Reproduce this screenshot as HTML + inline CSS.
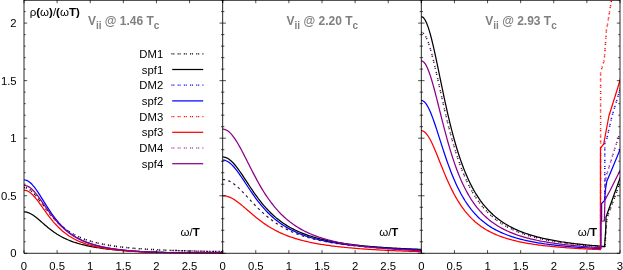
<!DOCTYPE html><html><head><meta charset="utf-8"><style>html,body{margin:0;padding:0;background:#fff}svg{display:block}text{font-family:"Liberation Sans",sans-serif}</style></head><body>
<svg width="623" height="270" viewBox="0 0 623 270">
<rect width="623" height="270" fill="#fff"/>
<clipPath id="c"><rect x="24.00" y="0" width="596.00" height="253.30"/></clipPath>
<g clip-path="url(#c)">
<path d="M24.00 187.58 L25.32 187.69 L26.65 188.03 L27.97 188.60 L29.30 189.37 L30.62 190.33 L31.95 191.47 L33.27 192.77 L34.60 194.20 L35.92 195.74 L37.24 197.37 L38.57 199.07 L39.89 200.81 L41.22 202.58 L42.54 204.37 L43.87 206.15 L45.19 207.92 L46.52 209.66 L47.84 211.36 L49.16 213.03 L50.49 214.65 L51.81 216.21 L53.14 217.72 L54.46 219.18 L55.79 220.58 L57.11 221.92 L58.44 223.20 L59.76 224.43 L61.08 225.60 L62.41 226.72 L63.73 227.78 L65.06 228.80 L66.38 229.77 L67.71 230.69 L69.03 231.56 L70.36 232.40 L71.68 233.19 L73.00 233.95 L74.33 234.67 L75.65 235.36 L76.98 236.01 L78.30 236.63 L79.63 237.22 L80.95 237.79 L82.28 238.33 L83.60 238.84 L84.92 239.33 L86.25 239.80 L87.57 240.24 L88.90 240.67 L90.22 241.08 L91.55 241.47 L92.87 241.84 L94.20 242.19 L95.52 242.53 L96.84 242.86 L98.17 243.17 L99.49 243.47 L100.82 243.76 L102.14 244.04 L103.47 244.30 L104.79 244.55 L106.12 244.80 L107.44 245.03 L108.76 245.26 L110.09 245.47 L111.41 245.68 L112.74 245.88 L114.06 246.07 L115.39 246.26 L116.71 246.44 L118.04 246.61 L119.36 246.78 L120.68 246.94 L122.01 247.09 L123.33 247.24 L124.66 247.39 L125.98 247.52 L127.31 247.66 L128.63 247.79 L129.96 247.91 L131.28 248.04 L132.60 248.15 L133.93 248.27 L135.25 248.38 L136.58 248.48 L137.90 248.59 L139.23 248.69 L140.55 248.79 L141.88 248.88 L143.20 248.97 L144.52 249.06 L145.85 249.15 L147.17 249.23 L148.50 249.31 L149.82 249.39 L151.15 249.46 L152.47 249.54 L153.80 249.61 L155.12 249.68 L156.44 249.75 L157.77 249.82 L159.09 249.88 L160.42 249.94 L161.74 250.00 L163.07 250.06 L164.39 250.12 L165.72 250.18 L167.04 250.23 L168.36 250.29 L169.69 250.34 L171.01 250.39 L172.34 250.44 L173.66 250.49 L174.99 250.53 L176.31 250.58 L177.64 250.62 L178.96 250.67 L180.28 250.71 L181.61 250.75 L182.93 250.79 L184.26 250.83 L185.58 250.87 L186.91 250.91 L188.23 250.95 L189.56 250.98 L190.88 251.02 L192.20 251.05 L193.53 251.09 L194.85 251.12 L196.18 251.15 L197.50 251.18 L198.83 251.21 L200.15 251.24 L201.48 251.27 L202.80 251.30 L204.12 251.33 L205.45 251.36 L206.77 251.39 L208.10 251.41 L209.42 251.44 L210.75 251.46 L212.07 251.49 L213.40 251.51 L214.72 251.54 L216.04 251.56 L217.37 251.58 L218.69 251.61 L220.02 251.63 L221.34 251.65 L222.67 251.67" fill="none" stroke="#000" stroke-width="1.50" stroke-dasharray="1.1 0.8 1.1 3.2" stroke-dashoffset="0"/>
<path d="M24.00 211.86 L25.32 211.94 L26.65 212.17 L27.97 212.54 L29.30 213.06 L30.62 213.70 L31.95 214.45 L33.27 215.31 L34.60 216.25 L35.92 217.27 L37.24 218.34 L38.57 219.45 L39.89 220.59 L41.22 221.74 L42.54 222.90 L43.87 224.06 L45.19 225.20 L46.52 226.32 L47.84 227.42 L49.16 228.49 L50.49 229.52 L51.81 230.52 L53.14 231.49 L54.46 232.42 L55.79 233.31 L57.11 234.16 L58.44 234.97 L59.76 235.75 L61.08 236.49 L62.41 237.20 L63.73 237.88 L65.06 238.52 L66.38 239.13 L67.71 239.72 L69.03 240.27 L70.36 240.80 L71.68 241.31 L73.00 241.79 L74.33 242.24 L75.65 242.68 L76.98 243.10 L78.30 243.49 L79.63 243.87 L80.95 244.24 L82.28 244.58 L83.60 244.91 L84.92 245.23 L86.25 245.53 L87.57 245.82 L88.90 246.10 L90.22 246.37 L91.55 246.62 L92.87 246.87 L94.20 247.10 L95.52 247.33 L96.84 247.54 L98.17 247.75 L99.49 247.95 L100.82 248.15 L102.14 248.33 L103.47 248.51 L104.79 248.68 L106.12 248.85 L107.44 249.01 L108.76 249.16 L110.09 249.31 L111.41 249.46 L112.74 249.59 L114.06 249.73 L115.39 249.86 L116.71 249.98 L118.04 250.10 L119.36 250.22 L120.68 250.33 L122.01 250.44 L123.33 250.54 L124.66 250.64 L125.98 250.74 L127.31 250.83 L128.63 250.92 L129.96 251.01 L131.28 251.10 L132.60 251.18 L133.93 251.26 L135.25 251.33 L136.58 251.40 L137.90 251.48 L139.23 251.54 L140.55 251.61 L141.88 251.67 L143.20 251.73 L144.52 251.79 L145.85 251.85 L147.17 251.91 L148.50 251.96 L149.82 252.01 L151.15 252.06 L152.47 252.11 L153.80 252.15 L155.12 252.20 L156.44 252.24 L157.77 252.28 L159.09 252.32 L160.42 252.35 L161.74 252.39 L163.07 252.43 L164.39 252.46 L165.72 252.49 L167.04 252.52 L168.36 252.55 L169.69 252.58 L171.01 252.61 L172.34 252.63 L173.66 252.66 L174.99 252.68 L176.31 252.71 L177.64 252.73 L178.96 252.75 L180.28 252.77 L181.61 252.79 L182.93 252.81 L184.26 252.83 L185.58 252.85 L186.91 252.87 L188.23 252.88 L189.56 252.90 L190.88 252.91 L192.20 252.93 L193.53 252.94 L194.85 252.95 L196.18 252.97 L197.50 252.98 L198.83 252.99 L200.15 253.00 L201.48 253.01 L202.80 253.02 L204.12 253.03 L205.45 253.04 L206.77 253.05 L208.10 253.06 L209.42 253.07 L210.75 253.08 L212.07 253.09 L213.40 253.09 L214.72 253.10 L216.04 253.11 L217.37 253.12 L218.69 253.12 L220.02 253.13 L221.34 253.13 L222.67 253.14" fill="none" stroke="#000" stroke-width="1.25" stroke-linejoin="round"/>
<path d="M24.00 179.87 L25.32 180.00 L26.65 180.38 L27.97 181.02 L29.30 181.90 L30.62 183.01 L31.95 184.31 L33.27 185.81 L34.60 187.46 L35.92 189.25 L37.24 191.15 L38.57 193.15 L39.89 195.20 L41.22 197.31 L42.54 199.43 L43.87 201.57 L45.19 203.69 L46.52 205.79 L47.84 207.86 L49.16 209.88 L50.49 211.85 L51.81 213.75 L53.14 215.60 L54.46 217.38 L55.79 219.09 L57.11 220.73 L58.44 222.30 L59.76 223.79 L61.08 225.22 L62.41 226.59 L63.73 227.88 L65.06 229.11 L66.38 230.28 L67.71 231.40 L69.03 232.45 L70.36 233.45 L71.68 234.40 L73.00 235.30 L74.33 236.16 L75.65 236.97 L76.98 237.74 L78.30 238.47 L79.63 239.16 L80.95 239.81 L82.28 240.44 L83.60 241.03 L84.92 241.59 L86.25 242.12 L87.57 242.63 L88.90 243.11 L90.22 243.57 L91.55 244.01 L92.87 244.42 L94.20 244.82 L95.52 245.19 L96.84 245.55 L98.17 245.89 L99.49 246.22 L100.82 246.53 L102.14 246.83 L103.47 247.11 L104.79 247.38 L106.12 247.64 L107.44 247.88 L108.76 248.12 L110.09 248.34 L111.41 248.56 L112.74 248.77 L114.06 248.96 L115.39 249.15 L116.71 249.33 L118.04 249.50 L119.36 249.67 L120.68 249.82 L122.01 249.97 L123.33 250.12 L124.66 250.26 L125.98 250.39 L127.31 250.52 L128.63 250.64 L129.96 250.75 L131.28 250.86 L132.60 250.97 L133.93 251.07 L135.25 251.17 L136.58 251.26 L137.90 251.35 L139.23 251.44 L140.55 251.52 L141.88 251.60 L143.20 251.67 L144.52 251.74 L145.85 251.81 L147.17 251.88 L148.50 251.94 L149.82 252.00 L151.15 252.06 L152.47 252.11 L153.80 252.16 L155.12 252.21 L156.44 252.26 L157.77 252.31 L159.09 252.35 L160.42 252.39 L161.74 252.43 L163.07 252.47 L164.39 252.51 L165.72 252.54 L167.04 252.57 L168.36 252.61 L169.69 252.64 L171.01 252.67 L172.34 252.69 L173.66 252.72 L174.99 252.74 L176.31 252.77 L177.64 252.79 L178.96 252.81 L180.28 252.83 L181.61 252.85 L182.93 252.87 L184.26 252.89 L185.58 252.91 L186.91 252.93 L188.23 252.94 L189.56 252.96 L190.88 252.97 L192.20 252.99 L193.53 253.00 L194.85 253.01 L196.18 253.02 L197.50 253.03 L198.83 253.05 L200.15 253.06 L201.48 253.07 L202.80 253.08 L204.12 253.09 L205.45 253.09 L206.77 253.10 L208.10 253.11 L209.42 253.12 L210.75 253.13 L212.07 253.13 L213.40 253.14 L214.72 253.15 L216.04 253.15 L217.37 253.16 L218.69 253.16 L220.02 253.17 L221.34 253.17 L222.67 253.18" fill="none" stroke="#0000ff" stroke-width="1.25" stroke-linejoin="round"/>
<path d="M24.00 190.23 L25.32 190.34 L26.65 190.69 L27.97 191.26 L29.30 192.04 L30.62 193.02 L31.95 194.18 L33.27 195.50 L34.60 196.97 L35.92 198.55 L37.24 200.23 L38.57 201.99 L39.89 203.80 L41.22 205.64 L42.54 207.51 L43.87 209.37 L45.19 211.22 L46.52 213.05 L47.84 214.85 L49.16 216.60 L50.49 218.30 L51.81 219.95 L53.14 221.54 L54.46 223.07 L55.79 224.54 L57.11 225.94 L58.44 227.29 L59.76 228.57 L61.08 229.79 L62.41 230.95 L63.73 232.05 L65.06 233.10 L66.38 234.09 L67.71 235.03 L69.03 235.92 L70.36 236.77 L71.68 237.57 L73.00 238.33 L74.33 239.05 L75.65 239.73 L76.98 240.38 L78.30 240.99 L79.63 241.57 L80.95 242.12 L82.28 242.64 L83.60 243.13 L84.92 243.60 L86.25 244.05 L87.57 244.47 L88.90 244.87 L90.22 245.26 L91.55 245.62 L92.87 245.96 L94.20 246.29 L95.52 246.61 L96.84 246.90 L98.17 247.19 L99.49 247.46 L100.82 247.72 L102.14 247.96 L103.47 248.20 L104.79 248.42 L106.12 248.63 L107.44 248.84 L108.76 249.03 L110.09 249.22 L111.41 249.40 L112.74 249.57 L114.06 249.73 L115.39 249.88 L116.71 250.03 L118.04 250.17 L119.36 250.31 L120.68 250.44 L122.01 250.57 L123.33 250.68 L124.66 250.80 L125.98 250.91 L127.31 251.01 L128.63 251.11 L129.96 251.21 L131.28 251.30 L132.60 251.39 L133.93 251.47 L135.25 251.55 L136.58 251.63 L137.90 251.70 L139.23 251.77 L140.55 251.84 L141.88 251.90 L143.20 251.96 L144.52 252.02 L145.85 252.08 L147.17 252.13 L148.50 252.18 L149.82 252.23 L151.15 252.28 L152.47 252.32 L153.80 252.37 L155.12 252.41 L156.44 252.45 L157.77 252.49 L159.09 252.52 L160.42 252.56 L161.74 252.59 L163.07 252.62 L164.39 252.65 L165.72 252.68 L167.04 252.71 L168.36 252.73 L169.69 252.76 L171.01 252.78 L172.34 252.80 L173.66 252.82 L174.99 252.84 L176.31 252.86 L177.64 252.88 L178.96 252.90 L180.28 252.92 L181.61 252.93 L182.93 252.95 L184.26 252.97 L185.58 252.98 L186.91 252.99 L188.23 253.01 L189.56 253.02 L190.88 253.03 L192.20 253.04 L193.53 253.05 L194.85 253.06 L196.18 253.07 L197.50 253.08 L198.83 253.09 L200.15 253.10 L201.48 253.11 L202.80 253.12 L204.12 253.12 L205.45 253.13 L206.77 253.14 L208.10 253.14 L209.42 253.15 L210.75 253.16 L212.07 253.16 L213.40 253.17 L214.72 253.17 L216.04 253.18 L217.37 253.18 L218.69 253.19 L220.02 253.19 L221.34 253.20 L222.67 253.20" fill="none" stroke="#ff0000" stroke-width="1.25" stroke-linejoin="round"/>
<path d="M24.00 185.39 L25.32 185.50 L26.65 185.84 L27.97 186.39 L29.30 187.15 L30.62 188.10 L31.95 189.23 L33.27 190.53 L34.60 191.97 L35.92 193.53 L37.24 195.20 L38.57 196.95 L39.89 198.77 L41.22 200.63 L42.54 202.52 L43.87 204.42 L45.19 206.33 L46.52 208.22 L47.84 210.08 L49.16 211.91 L50.49 213.70 L51.81 215.44 L53.14 217.14 L54.46 218.77 L55.79 220.35 L57.11 221.87 L58.44 223.33 L59.76 224.72 L61.08 226.06 L62.41 227.34 L63.73 228.56 L65.06 229.72 L66.38 230.83 L67.71 231.88 L69.03 232.89 L70.36 233.84 L71.68 234.75 L73.00 235.61 L74.33 236.43 L75.65 237.21 L76.98 237.95 L78.30 238.66 L79.63 239.32 L80.95 239.96 L82.28 240.56 L83.60 241.14 L84.92 241.69 L86.25 242.21 L87.57 242.70 L88.90 243.17 L90.22 243.62 L91.55 244.05 L92.87 244.46 L94.20 244.85 L95.52 245.22 L96.84 245.57 L98.17 245.91 L99.49 246.23 L100.82 246.53 L102.14 246.83 L103.47 247.11 L104.79 247.37 L106.12 247.63 L107.44 247.87 L108.76 248.11 L110.09 248.33 L111.41 248.54 L112.74 248.75 L114.06 248.95 L115.39 249.13 L116.71 249.31 L118.04 249.48 L119.36 249.65 L120.68 249.80 L122.01 249.96 L123.33 250.10 L124.66 250.24 L125.98 250.37 L127.31 250.50 L128.63 250.62 L129.96 250.73 L131.28 250.85 L132.60 250.95 L133.93 251.05 L135.25 251.15 L136.58 251.25 L137.90 251.34 L139.23 251.42 L140.55 251.50 L141.88 251.58 L143.20 251.66 L144.52 251.73 L145.85 251.80 L147.17 251.86 L148.50 251.93 L149.82 251.99 L151.15 252.04 L152.47 252.10 L153.80 252.15 L155.12 252.20 L156.44 252.25 L157.77 252.30 L159.09 252.34 L160.42 252.38 L161.74 252.42 L163.07 252.46 L164.39 252.50 L165.72 252.53 L167.04 252.57 L168.36 252.60 L169.69 252.63 L171.01 252.66 L172.34 252.69 L173.66 252.71 L174.99 252.74 L176.31 252.76 L177.64 252.79 L178.96 252.81 L180.28 252.83 L181.61 252.85 L182.93 252.87 L184.26 252.89 L185.58 252.90 L186.91 252.92 L188.23 252.94 L189.56 252.95 L190.88 252.97 L192.20 252.98 L193.53 252.99 L194.85 253.01 L196.18 253.02 L197.50 253.03 L198.83 253.04 L200.15 253.05 L201.48 253.06 L202.80 253.07 L204.12 253.08 L205.45 253.09 L206.77 253.10 L208.10 253.11 L209.42 253.12 L210.75 253.12 L212.07 253.13 L213.40 253.14 L214.72 253.14 L216.04 253.15 L217.37 253.16 L218.69 253.16 L220.02 253.17 L221.34 253.17 L222.67 253.18" fill="none" stroke="#8b008b" stroke-width="1.25" stroke-linejoin="round"/>
<path d="M173.00 250.46 L174.24 250.51 L175.48 250.55 L176.72 250.59 L177.97 250.63 L179.21 250.68 L180.45 250.72 L181.69 250.75 L182.93 250.79 L184.17 250.83 L185.42 250.87 L186.66 250.90 L187.90 250.94 L189.14 250.97 L190.38 251.00 L191.62 251.04 L192.87 251.07 L194.11 251.10 L195.35 251.13 L196.59 251.16 L197.83 251.19 L199.07 251.22 L200.32 251.25 L201.56 251.28 L202.80 251.30 L204.04 251.33 L205.28 251.36 L206.52 251.38 L207.77 251.41 L209.01 251.43 L210.25 251.45 L211.49 251.48 L212.73 251.50 L213.97 251.52 L215.22 251.55 L216.46 251.57 L217.70 251.59 L218.94 251.61 L220.18 251.63 L221.42 251.65 L222.67 251.67" fill="none" stroke="#8b008b" stroke-width="1.50" stroke-dasharray="1.1 0.8 1.1 3.2" stroke-dashoffset="0"/>
<path d="M222.67 156.96 L223.99 157.06 L225.32 157.36 L226.64 157.86 L227.96 158.55 L229.29 159.43 L230.61 160.47 L231.94 161.68 L233.26 163.03 L234.59 164.52 L235.91 166.12 L237.24 167.83 L238.56 169.62 L239.88 171.49 L241.21 173.41 L242.53 175.38 L243.86 177.38 L245.18 179.40 L246.51 181.43 L247.83 183.45 L249.16 185.47 L250.48 187.47 L251.80 189.44 L253.13 191.38 L254.45 193.28 L255.78 195.15 L257.10 196.97 L258.43 198.75 L259.75 200.48 L261.08 202.16 L262.40 203.79 L263.72 205.36 L265.05 206.89 L266.37 208.37 L267.70 209.80 L269.02 211.18 L270.35 212.51 L271.67 213.79 L273.00 215.03 L274.32 216.22 L275.64 217.37 L276.97 218.47 L278.29 219.54 L279.62 220.56 L280.94 221.55 L282.27 222.50 L283.59 223.41 L284.92 224.29 L286.24 225.14 L287.56 225.95 L288.89 226.74 L290.21 227.49 L291.54 228.22 L292.86 228.92 L294.19 229.59 L295.51 230.24 L296.84 230.87 L298.16 231.47 L299.48 232.05 L300.81 232.62 L302.13 233.16 L303.46 233.68 L304.78 234.18 L306.11 234.67 L307.43 235.14 L308.76 235.59 L310.08 236.03 L311.40 236.45 L312.73 236.86 L314.05 237.25 L315.38 237.63 L316.70 238.00 L318.03 238.36 L319.35 238.70 L320.68 239.04 L322.00 239.36 L323.32 239.67 L324.65 239.97 L325.97 240.27 L327.30 240.55 L328.62 240.83 L329.95 241.10 L331.27 241.35 L332.60 241.61 L333.92 241.85 L335.24 242.09 L336.57 242.32 L337.89 242.54 L339.22 242.76 L340.54 242.97 L341.87 243.17 L343.19 243.37 L344.52 243.56 L345.84 243.75 L347.16 243.93 L348.49 244.11 L349.81 244.28 L351.14 244.45 L352.46 244.61 L353.79 244.77 L355.11 244.93 L356.44 245.08 L357.76 245.23 L359.08 245.37 L360.41 245.51 L361.73 245.64 L363.06 245.78 L364.38 245.91 L365.71 246.03 L367.03 246.16 L368.36 246.28 L369.68 246.39 L371.00 246.51 L372.33 246.62 L373.65 246.73 L374.98 246.83 L376.30 246.94 L377.63 247.04 L378.95 247.14 L380.28 247.23 L381.60 247.33 L382.92 247.42 L384.25 247.51 L385.57 247.60 L386.90 247.68 L388.22 247.77 L389.55 247.85 L390.87 247.93 L392.20 248.01 L393.52 248.09 L394.84 248.16 L396.17 248.24 L397.49 248.31 L398.82 248.38 L400.14 248.45 L401.47 248.52 L402.79 248.59 L404.12 248.65 L405.44 248.71 L406.76 248.78 L408.09 248.84 L409.41 248.90 L410.74 248.96 L412.06 249.02 L413.39 249.07 L414.71 249.13 L416.04 249.18 L417.36 249.24 L418.68 249.29 L420.01 249.34 L421.33 249.39" fill="none" stroke="#000" stroke-width="1.25" stroke-linejoin="round"/>
<path d="M222.67 160.07 L223.99 160.17 L225.32 160.48 L226.64 160.99 L227.96 161.70 L229.29 162.59 L230.61 163.65 L231.94 164.88 L233.26 166.26 L234.59 167.77 L235.91 169.39 L237.24 171.12 L238.56 172.93 L239.88 174.81 L241.21 176.74 L242.53 178.72 L243.86 180.72 L245.18 182.73 L246.51 184.75 L247.83 186.76 L249.16 188.76 L250.48 190.73 L251.80 192.67 L253.13 194.58 L254.45 196.45 L255.78 198.28 L257.10 200.06 L258.43 201.79 L259.75 203.47 L261.08 205.10 L262.40 206.68 L263.72 208.21 L265.05 209.69 L266.37 211.11 L267.70 212.49 L269.02 213.81 L270.35 215.09 L271.67 216.32 L273.00 217.50 L274.32 218.64 L275.64 219.74 L276.97 220.79 L278.29 221.80 L279.62 222.78 L280.94 223.71 L282.27 224.61 L283.59 225.48 L284.92 226.31 L286.24 227.11 L287.56 227.88 L288.89 228.62 L290.21 229.33 L291.54 230.02 L292.86 230.68 L294.19 231.31 L295.51 231.92 L296.84 232.51 L298.16 233.08 L299.48 233.62 L300.81 234.15 L302.13 234.65 L303.46 235.14 L304.78 235.61 L306.11 236.07 L307.43 236.50 L308.76 236.93 L310.08 237.34 L311.40 237.73 L312.73 238.11 L314.05 238.48 L315.38 238.83 L316.70 239.18 L318.03 239.51 L319.35 239.83 L320.68 240.14 L322.00 240.44 L323.32 240.73 L324.65 241.01 L325.97 241.29 L327.30 241.55 L328.62 241.81 L329.95 242.05 L331.27 242.29 L332.60 242.53 L333.92 242.75 L335.24 242.97 L336.57 243.19 L337.89 243.39 L339.22 243.59 L340.54 243.79 L341.87 243.98 L343.19 244.16 L344.52 244.34 L345.84 244.51 L347.16 244.68 L348.49 244.85 L349.81 245.01 L351.14 245.16 L352.46 245.31 L353.79 245.46 L355.11 245.60 L356.44 245.74 L357.76 245.88 L359.08 246.01 L360.41 246.14 L361.73 246.26 L363.06 246.39 L364.38 246.51 L365.71 246.62 L367.03 246.73 L368.36 246.85 L369.68 246.95 L371.00 247.06 L372.33 247.16 L373.65 247.26 L374.98 247.36 L376.30 247.46 L377.63 247.55 L378.95 247.64 L380.28 247.73 L381.60 247.82 L382.92 247.90 L384.25 247.98 L385.57 248.07 L386.90 248.14 L388.22 248.22 L389.55 248.30 L390.87 248.37 L392.20 248.45 L393.52 248.52 L394.84 248.59 L396.17 248.65 L397.49 248.72 L398.82 248.79 L400.14 248.85 L401.47 248.91 L402.79 248.97 L404.12 249.03 L405.44 249.09 L406.76 249.15 L408.09 249.21 L409.41 249.26 L410.74 249.32 L412.06 249.37 L413.39 249.42 L414.71 249.47 L416.04 249.52 L417.36 249.57 L418.68 249.62 L420.01 249.67 L421.33 249.71" fill="none" stroke="#0000ff" stroke-width="1.25" stroke-linejoin="round"/>
<path d="M222.67 195.75 L223.99 195.80 L225.32 195.97 L226.64 196.24 L227.96 196.61 L229.29 197.08 L230.61 197.65 L231.94 198.30 L233.26 199.04 L234.59 199.85 L235.91 200.73 L237.24 201.67 L238.56 202.66 L239.88 203.69 L241.21 204.76 L242.53 205.86 L243.86 206.98 L245.18 208.12 L246.51 209.26 L247.83 210.42 L249.16 211.56 L250.48 212.71 L251.80 213.84 L253.13 214.97 L254.45 216.07 L255.78 217.16 L257.10 218.23 L258.43 219.27 L259.75 220.29 L261.08 221.28 L262.40 222.25 L263.72 223.20 L265.05 224.11 L266.37 225.00 L267.70 225.86 L269.02 226.70 L270.35 227.50 L271.67 228.29 L273.00 229.04 L274.32 229.77 L275.64 230.48 L276.97 231.16 L278.29 231.82 L279.62 232.45 L280.94 233.07 L282.27 233.66 L283.59 234.23 L284.92 234.78 L286.24 235.31 L287.56 235.82 L288.89 236.32 L290.21 236.80 L291.54 237.26 L292.86 237.70 L294.19 238.13 L295.51 238.55 L296.84 238.95 L298.16 239.34 L299.48 239.71 L300.81 240.07 L302.13 240.42 L303.46 240.76 L304.78 241.09 L306.11 241.40 L307.43 241.71 L308.76 242.00 L310.08 242.29 L311.40 242.57 L312.73 242.84 L314.05 243.10 L315.38 243.35 L316.70 243.59 L318.03 243.83 L319.35 244.06 L320.68 244.28 L322.00 244.50 L323.32 244.71 L324.65 244.91 L325.97 245.11 L327.30 245.30 L328.62 245.49 L329.95 245.67 L331.27 245.85 L332.60 246.02 L333.92 246.18 L335.24 246.35 L336.57 246.50 L337.89 246.66 L339.22 246.81 L340.54 246.95 L341.87 247.10 L343.19 247.23 L344.52 247.37 L345.84 247.50 L347.16 247.63 L348.49 247.75 L349.81 247.87 L351.14 247.99 L352.46 248.11 L353.79 248.22 L355.11 248.33 L356.44 248.44 L357.76 248.54 L359.08 248.65 L360.41 248.75 L361.73 248.85 L363.06 248.94 L364.38 249.04 L365.71 249.13 L367.03 249.22 L368.36 249.30 L369.68 249.39 L371.00 249.47 L372.33 249.55 L373.65 249.63 L374.98 249.71 L376.30 249.79 L377.63 249.86 L378.95 249.94 L380.28 250.01 L381.60 250.08 L382.92 250.15 L384.25 250.22 L385.57 250.28 L386.90 250.35 L388.22 250.41 L389.55 250.47 L390.87 250.53 L392.20 250.59 L393.52 250.65 L394.84 250.70 L396.17 250.76 L397.49 250.82 L398.82 250.87 L400.14 250.92 L401.47 250.97 L402.79 251.02 L404.12 251.07 L405.44 251.12 L406.76 251.17 L408.09 251.21 L409.41 251.26 L410.74 251.30 L412.06 251.35 L413.39 251.39 L414.71 251.43 L416.04 251.47 L417.36 251.51 L418.68 251.55 L420.01 251.59 L421.33 251.62" fill="none" stroke="#ff0000" stroke-width="1.25" stroke-linejoin="round"/>
<path d="M222.67 179.52 L223.99 179.59 L225.32 179.78 L226.64 180.11 L227.96 180.56 L229.29 181.13 L230.61 181.81 L231.94 182.61 L233.26 183.50 L234.59 184.49 L235.91 185.56 L237.24 186.70 L238.56 187.91 L239.88 189.18 L241.21 190.49 L242.53 191.84 L243.86 193.22 L245.18 194.63 L246.51 196.05 L247.83 197.48 L249.16 198.91 L250.48 200.33 L251.80 201.75 L253.13 203.16 L254.45 204.54 L255.78 205.91 L257.10 207.26 L258.43 208.57 L259.75 209.86 L261.08 211.13 L262.40 212.36 L263.72 213.56 L265.05 214.72 L266.37 215.86 L267.70 216.96 L269.02 218.03 L270.35 219.06 L271.67 220.06 L273.00 221.04 L274.32 221.98 L275.64 222.88 L276.97 223.76 L278.29 224.61 L279.62 225.43 L280.94 226.23 L282.27 226.99 L283.59 227.73 L284.92 228.44 L286.24 229.13 L287.56 229.80 L288.89 230.44 L290.21 231.06 L291.54 231.66 L292.86 232.24 L294.19 232.80 L295.51 233.34 L296.84 233.86 L298.16 234.36 L299.48 234.84 L300.81 235.31 L302.13 235.77 L303.46 236.20 L304.78 236.63 L306.11 237.04 L307.43 237.43 L308.76 237.82 L310.08 238.19 L311.40 238.54 L312.73 238.89 L314.05 239.23 L315.38 239.55 L316.70 239.87 L318.03 240.17 L319.35 240.47 L320.68 240.75 L322.00 241.03 L323.32 241.30 L324.65 241.56 L325.97 241.81 L327.30 242.06 L328.62 242.29 L329.95 242.52 L331.27 242.75 L332.60 242.96 L333.92 243.18 L335.24 243.38 L336.57 243.58 L337.89 243.77 L339.22 243.96 L340.54 244.14 L341.87 244.32 L343.19 244.49 L344.52 244.66 L345.84 244.83 L347.16 244.99 L348.49 245.14 L349.81 245.29 L351.14 245.44 L352.46 245.58 L353.79 245.72 L355.11 245.86 L356.44 245.99 L357.76 246.12 L359.08 246.24 L360.41 246.36 L361.73 246.48 L363.06 246.60 L364.38 246.71 L365.71 246.82 L367.03 246.93 L368.36 247.04 L369.68 247.14 L371.00 247.24 L372.33 247.34 L373.65 247.44 L374.98 247.53 L376.30 247.62 L377.63 247.71 L378.95 247.80 L380.28 247.88 L381.60 247.97 L382.92 248.05 L384.25 248.13 L385.57 248.21 L386.90 248.28 L388.22 248.36 L389.55 248.43 L390.87 248.50 L392.20 248.57 L393.52 248.64 L394.84 248.71 L396.17 248.77 L397.49 248.84 L398.82 248.90 L400.14 248.96 L401.47 249.02 L402.79 249.08 L404.12 249.14 L405.44 249.19 L406.76 249.25 L408.09 249.30 L409.41 249.36 L410.74 249.41 L412.06 249.46 L413.39 249.51 L414.71 249.56 L416.04 249.61 L417.36 249.66 L418.68 249.70 L420.01 249.75 L421.33 249.79" fill="none" stroke="#35103a" stroke-width="1.15" stroke-dasharray="2.5 3.3" stroke-dashoffset="0"/>
<path d="M222.67 129.11 L223.99 129.23 L225.32 129.60 L226.64 130.20 L227.96 131.04 L229.29 132.11 L230.61 133.38 L231.94 134.86 L233.26 136.53 L234.59 138.37 L235.91 140.36 L237.24 142.49 L238.56 144.74 L239.88 147.09 L241.21 149.53 L242.53 152.03 L243.86 154.59 L245.18 157.19 L246.51 159.81 L247.83 162.45 L249.16 165.08 L250.48 167.70 L251.80 170.30 L253.13 172.88 L254.45 175.41 L255.78 177.90 L257.10 180.35 L258.43 182.74 L259.75 185.07 L261.08 187.35 L262.40 189.56 L263.72 191.71 L265.05 193.80 L266.37 195.82 L267.70 197.77 L269.02 199.67 L270.35 201.49 L271.67 203.26 L273.00 204.96 L274.32 206.60 L275.64 208.19 L276.97 209.71 L278.29 211.18 L279.62 212.59 L280.94 213.95 L282.27 215.26 L283.59 216.52 L284.92 217.73 L286.24 218.89 L287.56 220.01 L288.89 221.09 L290.21 222.13 L291.54 223.12 L292.86 224.08 L294.19 225.00 L295.51 225.89 L296.84 226.74 L298.16 227.56 L299.48 228.35 L300.81 229.11 L302.13 229.85 L303.46 230.55 L304.78 231.23 L306.11 231.88 L307.43 232.51 L308.76 233.12 L310.08 233.71 L311.40 234.27 L312.73 234.82 L314.05 235.34 L315.38 235.85 L316.70 236.34 L318.03 236.81 L319.35 237.26 L320.68 237.70 L322.00 238.13 L323.32 238.54 L324.65 238.94 L325.97 239.32 L327.30 239.69 L328.62 240.05 L329.95 240.40 L331.27 240.73 L332.60 241.06 L333.92 241.37 L335.24 241.68 L336.57 241.97 L337.89 242.26 L339.22 242.54 L340.54 242.81 L341.87 243.07 L343.19 243.32 L344.52 243.57 L345.84 243.80 L347.16 244.03 L348.49 244.26 L349.81 244.48 L351.14 244.69 L352.46 244.89 L353.79 245.09 L355.11 245.29 L356.44 245.48 L357.76 245.66 L359.08 245.84 L360.41 246.01 L361.73 246.18 L363.06 246.35 L364.38 246.51 L365.71 246.66 L367.03 246.82 L368.36 246.96 L369.68 247.11 L371.00 247.25 L372.33 247.38 L373.65 247.52 L374.98 247.65 L376.30 247.77 L377.63 247.90 L378.95 248.02 L380.28 248.14 L381.60 248.25 L382.92 248.36 L384.25 248.47 L385.57 248.58 L386.90 248.68 L388.22 248.78 L389.55 248.88 L390.87 248.98 L392.20 249.07 L393.52 249.17 L394.84 249.26 L396.17 249.34 L397.49 249.43 L398.82 249.51 L400.14 249.60 L401.47 249.68 L402.79 249.75 L404.12 249.83 L405.44 249.91 L406.76 249.98 L408.09 250.05 L409.41 250.12 L410.74 250.19 L412.06 250.26 L413.39 250.32 L414.71 250.39 L416.04 250.45 L417.36 250.51 L418.68 250.57 L420.01 250.63 L421.33 250.69" fill="none" stroke="#8b008b" stroke-width="1.25" stroke-linejoin="round"/>
<path d="M421.33 32.31 L422.64 32.69 L423.96 33.81 L425.27 35.67 L426.58 38.21 L427.89 41.40 L429.20 45.16 L430.51 49.45 L431.82 54.17 L433.13 59.27 L434.45 64.67 L435.76 70.30 L437.07 76.09 L438.38 81.98 L439.69 87.92 L441.00 93.86 L442.31 99.75 L443.62 105.57 L444.93 111.27 L446.25 116.84 L447.56 122.25 L448.87 127.50 L450.18 132.57 L451.49 137.46 L452.80 142.15 L454.11 146.66 L455.42 150.98 L456.74 155.12 L458.05 159.07 L459.36 162.84 L460.67 166.44 L461.98 169.87 L463.29 173.14 L464.60 176.26 L465.91 179.23 L467.22 182.06 L468.54 184.75 L469.85 187.31 L471.16 189.75 L472.47 192.08 L473.78 194.29 L475.09 196.41 L476.40 198.42 L477.71 200.34 L479.03 202.17 L480.34 203.91 L481.65 205.58 L482.96 207.17 L484.27 208.68 L485.58 210.13 L486.89 211.52 L488.20 212.85 L489.52 214.11 L490.83 215.33 L492.14 216.49 L493.45 217.60 L494.76 218.67 L496.07 219.69 L497.38 220.67 L498.69 221.61 L500.00 222.51 L501.32 223.37 L502.63 224.21 L503.94 225.00 L505.25 225.77 L506.56 226.51 L507.87 227.22 L509.18 227.91 L510.49 228.56 L511.81 229.20 L513.12 229.81 L514.43 230.40 L515.74 230.97 L517.05 231.51 L518.36 232.04 L519.67 232.55 L520.98 233.05 L522.29 233.52 L523.61 233.98 L524.92 234.43 L526.23 234.86 L527.54 235.27 L528.85 235.67 L530.16 236.06 L531.47 236.44 L532.78 236.80 L534.10 237.16 L535.41 237.50 L536.72 237.83 L538.03 238.15 L539.34 238.47 L540.65 238.77 L541.96 239.06 L543.27 239.35 L544.59 239.63 L545.90 239.89 L547.21 240.16 L548.52 240.41 L549.83 240.66 L551.14 240.90 L552.45 241.13 L553.76 241.36 L555.07 241.58 L556.39 241.79 L557.70 242.00 L559.01 242.20 L560.32 242.40 L561.63 242.60 L562.94 242.78 L564.25 242.97 L565.56 243.14 L566.88 243.32 L568.19 243.49 L569.50 243.65 L570.81 243.81 L572.12 243.97 L573.43 244.13 L574.74 244.28 L576.05 244.42 L577.37 244.56 L578.68 244.70 L579.99 244.84 L581.30 244.97 L582.61 245.10 L583.92 245.23 L585.23 245.35 L586.54 245.47 L587.85 245.59 L589.17 245.71 L590.48 245.82 L591.79 245.93 L593.10 246.04 L594.41 246.15 L595.72 246.25 L597.03 246.35 L598.34 246.45 L599.66 246.55 L600.97 246.64 L602.28 246.74 L603.59 246.83 L604.90 246.92" fill="none" stroke="#4b0f4b" stroke-width="1.50" stroke-dasharray="1.1 0.8 1.1 3.2" stroke-dashoffset="0"/>
<path d="M604.90 246.92 L606.10 228.00 L607.00 218.00 L621.00 180.00" fill="none" stroke="#000" stroke-width="1.50" stroke-dasharray="1.1 0.8 1.1 3.2" stroke-dashoffset="0"/>
<path d="M421.33 16.65 L422.64 17.06 L423.95 18.26 L425.26 20.24 L426.57 22.96 L427.88 26.36 L429.19 30.38 L430.50 34.95 L431.81 40.00 L433.11 45.45 L434.42 51.22 L435.73 57.23 L437.04 63.42 L438.35 69.71 L439.66 76.06 L440.97 82.41 L442.28 88.71 L443.59 94.93 L444.90 101.03 L446.21 106.99 L447.51 112.78 L448.82 118.40 L450.13 123.83 L451.44 129.06 L452.75 134.09 L454.06 138.92 L455.37 143.54 L456.68 147.97 L457.99 152.20 L459.30 156.25 L460.60 160.10 L461.91 163.78 L463.22 167.29 L464.53 170.63 L465.84 173.81 L467.15 176.84 L468.46 179.73 L469.77 182.47 L471.08 185.09 L472.39 187.59 L473.70 189.96 L475.00 192.23 L476.31 194.39 L477.62 196.44 L478.93 198.41 L480.24 200.28 L481.55 202.06 L482.86 203.77 L484.17 205.40 L485.48 206.96 L486.79 208.44 L488.09 209.86 L489.40 211.23 L490.71 212.53 L492.02 213.77 L493.33 214.97 L494.64 216.11 L495.95 217.21 L497.26 218.26 L498.57 219.27 L499.88 220.23 L501.19 221.16 L502.49 222.06 L503.80 222.91 L505.11 223.74 L506.42 224.53 L507.73 225.29 L509.04 226.03 L510.35 226.73 L511.66 227.42 L512.97 228.07 L514.28 228.70 L515.58 229.31 L516.89 229.90 L518.20 230.47 L519.51 231.02 L520.82 231.55 L522.13 232.06 L523.44 232.55 L524.75 233.03 L526.06 233.49 L527.37 233.94 L528.68 234.37 L529.98 234.79 L531.29 235.19 L532.60 235.58 L533.91 235.96 L535.22 236.33 L536.53 236.69 L537.84 237.03 L539.15 237.37 L540.46 237.69 L541.77 238.01 L543.07 238.31 L544.38 238.61 L545.69 238.90 L547.00 239.18 L548.31 239.45 L549.62 239.72 L550.93 239.98 L552.24 240.23 L553.55 240.47 L554.86 240.71 L556.17 240.94 L557.47 241.16 L558.78 241.38 L560.09 241.59 L561.40 241.80 L562.71 242.00 L564.02 242.20 L565.33 242.39 L566.64 242.58 L567.95 242.76 L569.26 242.94 L570.56 243.11 L571.87 243.28 L573.18 243.44 L574.49 243.61 L575.80 243.76 L577.11 243.92 L578.42 244.07 L579.73 244.21 L581.04 244.35 L582.35 244.49 L583.66 244.63 L584.96 244.76 L586.27 244.89 L587.58 245.02 L588.89 245.15 L590.20 245.27 L591.51 245.39 L592.82 245.50 L594.13 245.62 L595.44 245.73 L596.75 245.84 L598.05 245.94 L599.36 246.05 L600.67 246.15 L601.98 246.25 L603.29 246.35 L604.60 246.44 L605.80 228.00 L606.00 217.00 L620.00 178.20 L621.00 175.50" fill="none" stroke="#000" stroke-width="1.25" stroke-linejoin="round"/>
<path d="M604.80 200.00 L604.80 142.00 L606.30 140.90 L612.00 116.00 L619.30 92.00 L620.50 88.00" fill="none" stroke="#0000ff" stroke-width="1.50" stroke-dasharray="1.1 0.8 1.1 3.2" stroke-dashoffset="0"/>
<path d="M421.33 100.45 L422.62 100.70 L423.90 101.44 L425.18 102.67 L426.46 104.36 L427.74 106.47 L429.02 108.97 L430.31 111.82 L431.59 114.97 L432.87 118.37 L434.15 121.98 L435.43 125.76 L436.72 129.65 L438.00 133.62 L439.28 137.63 L440.56 141.65 L441.84 145.65 L443.13 149.60 L444.41 153.49 L445.69 157.29 L446.97 161.00 L448.25 164.60 L449.54 168.09 L450.82 171.45 L452.10 174.70 L453.38 177.82 L454.66 180.81 L455.94 183.68 L457.23 186.43 L458.51 189.06 L459.79 191.57 L461.07 193.96 L462.35 196.25 L463.64 198.43 L464.92 200.52 L466.20 202.50 L467.48 204.39 L468.76 206.20 L470.05 207.92 L471.33 209.56 L472.61 211.12 L473.89 212.61 L475.17 214.04 L476.46 215.39 L477.74 216.69 L479.02 217.93 L480.30 219.11 L481.58 220.23 L482.86 221.31 L484.15 222.34 L485.43 223.33 L486.71 224.27 L487.99 225.17 L489.27 226.04 L490.56 226.87 L491.84 227.66 L493.12 228.42 L494.40 229.15 L495.68 229.85 L496.97 230.52 L498.25 231.16 L499.53 231.78 L500.81 232.37 L502.09 232.94 L503.38 233.49 L504.66 234.02 L505.94 234.53 L507.22 235.02 L508.50 235.49 L509.78 235.95 L511.07 236.38 L512.35 236.81 L513.63 237.21 L514.91 237.61 L516.19 237.99 L517.48 238.35 L518.76 238.70 L520.04 239.05 L521.32 239.38 L522.60 239.70 L523.89 240.00 L525.17 240.30 L526.45 240.59 L527.73 240.87 L529.01 241.14 L530.30 241.40 L531.58 241.66 L532.86 241.90 L534.14 242.14 L535.42 242.37 L536.70 242.60 L537.99 242.82 L539.27 243.03 L540.55 243.23 L541.83 243.43 L543.11 243.63 L544.40 243.81 L545.68 244.00 L546.96 244.17 L548.24 244.35 L549.52 244.52 L550.81 244.68 L552.09 244.84 L553.37 244.99 L554.65 245.14 L555.93 245.29 L557.22 245.43 L558.50 245.57 L559.78 245.71 L561.06 245.84 L562.34 245.97 L563.62 246.09 L564.91 246.21 L566.19 246.33 L567.47 246.45 L568.75 246.56 L570.03 246.67 L571.32 246.78 L572.60 246.89 L573.88 246.99 L575.16 247.09 L576.44 247.19 L577.73 247.28 L579.01 247.38 L580.29 247.47 L581.57 247.56 L582.85 247.65 L584.14 247.73 L585.42 247.82 L586.70 247.90 L587.98 247.98 L589.26 248.06 L590.54 248.13 L591.83 248.21 L593.11 248.28 L594.39 248.35 L595.67 248.42 L596.95 248.49 L598.24 248.56 L599.52 248.62 L600.80 248.69 L600.90 222.00 L601.60 219.00 L601.60 203.50 L604.50 200.60 L605.40 190.00 L606.80 181.30 L611.00 171.50 L619.80 150.20 L620.50 148.50" fill="none" stroke="#0000ff" stroke-width="1.25" stroke-linejoin="round"/>
<path d="M600.60 249.00 L600.60 72.40 L604.30 60.00 L606.50 29.00 L607.40 25.00 L611.50 0.00 L612.00 -3.00" fill="none" stroke="#ff0000" stroke-width="1.50" stroke-dasharray="1.1 0.8 1.1 3.2" stroke-dashoffset="0"/>
<path d="M421.33 130.72 L422.61 130.92 L423.89 131.51 L425.17 132.49 L426.45 133.84 L427.73 135.53 L429.01 137.52 L430.29 139.80 L431.57 142.32 L432.84 145.04 L434.12 147.92 L435.40 150.94 L436.68 154.05 L437.96 157.23 L439.24 160.44 L440.52 163.65 L441.80 166.85 L443.08 170.02 L444.36 173.13 L445.64 176.18 L446.91 179.15 L448.19 182.03 L449.47 184.83 L450.75 187.53 L452.03 190.13 L453.31 192.63 L454.59 195.03 L455.87 197.33 L457.15 199.54 L458.43 201.65 L459.70 203.66 L460.98 205.59 L462.26 207.42 L463.54 209.17 L464.82 210.85 L466.10 212.44 L467.38 213.96 L468.66 215.41 L469.94 216.79 L471.22 218.11 L472.50 219.37 L473.77 220.56 L475.05 221.71 L476.33 222.80 L477.61 223.84 L478.89 224.83 L480.17 225.78 L481.45 226.69 L482.73 227.56 L484.01 228.39 L485.29 229.18 L486.56 229.94 L487.84 230.66 L489.12 231.36 L490.40 232.02 L491.68 232.66 L492.96 233.27 L494.24 233.86 L495.52 234.42 L496.80 234.96 L498.08 235.48 L499.36 235.97 L500.63 236.45 L501.91 236.91 L503.19 237.35 L504.47 237.78 L505.75 238.19 L507.03 238.58 L508.31 238.96 L509.59 239.33 L510.87 239.68 L512.15 240.02 L513.42 240.35 L514.70 240.66 L515.98 240.97 L517.26 241.26 L518.54 241.55 L519.82 241.82 L521.10 242.09 L522.38 242.35 L523.66 242.59 L524.94 242.83 L526.22 243.07 L527.49 243.29 L528.77 243.51 L530.05 243.72 L531.33 243.93 L532.61 244.12 L533.89 244.32 L535.17 244.50 L536.45 244.68 L537.73 244.86 L539.01 245.03 L540.28 245.19 L541.56 245.35 L542.84 245.51 L544.12 245.66 L545.40 245.81 L546.68 245.95 L547.96 246.09 L549.24 246.23 L550.52 246.36 L551.80 246.48 L553.08 246.61 L554.35 246.73 L555.63 246.85 L556.91 246.96 L558.19 247.08 L559.47 247.18 L560.75 247.29 L562.03 247.39 L563.31 247.50 L564.59 247.59 L565.87 247.69 L567.14 247.78 L568.42 247.87 L569.70 247.96 L570.98 248.05 L572.26 248.14 L573.54 248.22 L574.82 248.30 L576.10 248.38 L577.38 248.46 L578.66 248.53 L579.94 248.60 L581.21 248.68 L582.49 248.75 L583.77 248.82 L585.05 248.88 L586.33 248.95 L587.61 249.01 L588.89 249.08 L590.17 249.14 L591.45 249.20 L592.73 249.26 L594.00 249.31 L595.28 249.37 L596.56 249.43 L597.84 249.48 L599.12 249.53 L600.40 249.59 L600.50 148.10 L603.70 144.00 L608.90 116.00 L617.70 88.00 L620.00 80.20 L621.00 77.00" fill="none" stroke="#ff0000" stroke-width="1.25" stroke-linejoin="round"/>
<path d="M605.30 199.00 L605.60 180.00 L606.30 175.70 L607.90 170.80 L615.60 146.00 L619.30 135.20 L620.50 132.00" fill="none" stroke="#8b008b" stroke-width="1.50" stroke-dasharray="1.1 0.8 1.1 3.2" stroke-dashoffset="0"/>
<path d="M421.33 60.85 L422.62 61.18 L423.90 62.15 L425.18 63.75 L426.46 65.94 L427.74 68.68 L429.02 71.93 L430.31 75.62 L431.59 79.70 L432.87 84.10 L434.15 88.76 L435.43 93.63 L436.72 98.63 L438.00 103.73 L439.28 108.87 L440.56 114.01 L441.84 119.12 L443.13 124.16 L444.41 129.11 L445.69 133.94 L446.97 138.65 L448.25 143.21 L449.54 147.62 L450.82 151.87 L452.10 155.96 L453.38 159.89 L454.66 163.65 L455.94 167.26 L457.23 170.70 L458.51 173.99 L459.79 177.13 L461.07 180.13 L462.35 182.99 L463.64 185.71 L464.92 188.30 L466.20 190.78 L467.48 193.13 L468.76 195.37 L470.05 197.51 L471.33 199.55 L472.61 201.48 L473.89 203.33 L475.17 205.10 L476.46 206.78 L477.74 208.38 L479.02 209.91 L480.30 211.37 L481.58 212.76 L482.86 214.09 L484.15 215.36 L485.43 216.58 L486.71 217.74 L487.99 218.85 L489.27 219.92 L490.56 220.94 L491.84 221.91 L493.12 222.85 L494.40 223.74 L495.68 224.60 L496.97 225.43 L498.25 226.22 L499.53 226.98 L500.81 227.71 L502.09 228.41 L503.38 229.09 L504.66 229.74 L505.94 230.36 L507.22 230.96 L508.50 231.54 L509.78 232.10 L511.07 232.63 L512.35 233.15 L513.63 233.65 L514.91 234.13 L516.19 234.60 L517.48 235.04 L518.76 235.48 L520.04 235.90 L521.32 236.30 L522.60 236.69 L523.89 237.07 L525.17 237.43 L526.45 237.79 L527.73 238.13 L529.01 238.46 L530.30 238.78 L531.58 239.09 L532.86 239.39 L534.14 239.69 L535.42 239.97 L536.70 240.24 L537.99 240.51 L539.27 240.77 L540.55 241.02 L541.83 241.26 L543.11 241.50 L544.40 241.73 L545.68 241.95 L546.96 242.17 L548.24 242.38 L549.52 242.59 L550.81 242.79 L552.09 242.98 L553.37 243.17 L554.65 243.35 L555.93 243.53 L557.22 243.71 L558.50 243.88 L559.78 244.04 L561.06 244.20 L562.34 244.36 L563.62 244.51 L564.91 244.66 L566.19 244.81 L567.47 244.95 L568.75 245.09 L570.03 245.22 L571.32 245.35 L572.60 245.48 L573.88 245.61 L575.16 245.73 L576.44 245.85 L577.73 245.97 L579.01 246.08 L580.29 246.19 L581.57 246.30 L582.85 246.41 L584.14 246.51 L585.42 246.62 L586.70 246.72 L587.98 246.81 L589.26 246.91 L590.54 247.00 L591.83 247.09 L593.11 247.18 L594.39 247.27 L595.67 247.36 L596.95 247.44 L598.24 247.52 L599.52 247.60 L600.80 247.68 L600.80 221.20 L604.30 221.00 L605.00 200.00 L610.30 190.00 L619.30 172.00 L620.50 169.60" fill="none" stroke="#8b008b" stroke-width="1.25" stroke-linejoin="round"/>
</g>
<line x1="24.00" y1="0.30" x2="620.00" y2="0.30" stroke="#000" stroke-width="0.85"/>
<line x1="24.00" y1="253.30" x2="620.00" y2="253.30" stroke="#000" stroke-width="0.85"/>
<line x1="24.00" y1="0.00" x2="24.00" y2="253.30" stroke="#000" stroke-width="0.85"/>
<line x1="222.67" y1="0.00" x2="222.67" y2="253.30" stroke="#000" stroke-width="0.85"/>
<line x1="421.33" y1="0.00" x2="421.33" y2="253.30" stroke="#000" stroke-width="0.85"/>
<line x1="620.00" y1="0.00" x2="620.00" y2="253.30" stroke="#000" stroke-width="0.85"/>
<line x1="24.00" y1="253.30" x2="27.20" y2="253.30" stroke="#000" stroke-width="0.70"/>
<line x1="222.67" y1="253.30" x2="225.87" y2="253.30" stroke="#000" stroke-width="0.70"/>
<line x1="219.47" y1="253.30" x2="222.67" y2="253.30" stroke="#000" stroke-width="0.70"/>
<line x1="421.33" y1="253.30" x2="424.53" y2="253.30" stroke="#000" stroke-width="0.70"/>
<line x1="418.13" y1="253.30" x2="421.33" y2="253.30" stroke="#000" stroke-width="0.70"/>
<line x1="616.80" y1="253.30" x2="620.00" y2="253.30" stroke="#000" stroke-width="0.70"/>
<line x1="24.00" y1="241.79" x2="25.70" y2="241.79" stroke="#000" stroke-width="0.70"/>
<line x1="222.67" y1="241.79" x2="224.37" y2="241.79" stroke="#000" stroke-width="0.70"/>
<line x1="220.97" y1="241.79" x2="222.67" y2="241.79" stroke="#000" stroke-width="0.70"/>
<line x1="421.33" y1="241.79" x2="423.03" y2="241.79" stroke="#000" stroke-width="0.70"/>
<line x1="419.63" y1="241.79" x2="421.33" y2="241.79" stroke="#000" stroke-width="0.70"/>
<line x1="618.30" y1="241.79" x2="620.00" y2="241.79" stroke="#000" stroke-width="0.70"/>
<line x1="24.00" y1="230.28" x2="25.70" y2="230.28" stroke="#000" stroke-width="0.70"/>
<line x1="222.67" y1="230.28" x2="224.37" y2="230.28" stroke="#000" stroke-width="0.70"/>
<line x1="220.97" y1="230.28" x2="222.67" y2="230.28" stroke="#000" stroke-width="0.70"/>
<line x1="421.33" y1="230.28" x2="423.03" y2="230.28" stroke="#000" stroke-width="0.70"/>
<line x1="419.63" y1="230.28" x2="421.33" y2="230.28" stroke="#000" stroke-width="0.70"/>
<line x1="618.30" y1="230.28" x2="620.00" y2="230.28" stroke="#000" stroke-width="0.70"/>
<line x1="24.00" y1="218.77" x2="25.70" y2="218.77" stroke="#000" stroke-width="0.70"/>
<line x1="222.67" y1="218.77" x2="224.37" y2="218.77" stroke="#000" stroke-width="0.70"/>
<line x1="220.97" y1="218.77" x2="222.67" y2="218.77" stroke="#000" stroke-width="0.70"/>
<line x1="421.33" y1="218.77" x2="423.03" y2="218.77" stroke="#000" stroke-width="0.70"/>
<line x1="419.63" y1="218.77" x2="421.33" y2="218.77" stroke="#000" stroke-width="0.70"/>
<line x1="618.30" y1="218.77" x2="620.00" y2="218.77" stroke="#000" stroke-width="0.70"/>
<line x1="24.00" y1="207.26" x2="25.70" y2="207.26" stroke="#000" stroke-width="0.70"/>
<line x1="222.67" y1="207.26" x2="224.37" y2="207.26" stroke="#000" stroke-width="0.70"/>
<line x1="220.97" y1="207.26" x2="222.67" y2="207.26" stroke="#000" stroke-width="0.70"/>
<line x1="421.33" y1="207.26" x2="423.03" y2="207.26" stroke="#000" stroke-width="0.70"/>
<line x1="419.63" y1="207.26" x2="421.33" y2="207.26" stroke="#000" stroke-width="0.70"/>
<line x1="618.30" y1="207.26" x2="620.00" y2="207.26" stroke="#000" stroke-width="0.70"/>
<line x1="24.00" y1="195.75" x2="27.20" y2="195.75" stroke="#000" stroke-width="0.70"/>
<line x1="222.67" y1="195.75" x2="225.87" y2="195.75" stroke="#000" stroke-width="0.70"/>
<line x1="219.47" y1="195.75" x2="222.67" y2="195.75" stroke="#000" stroke-width="0.70"/>
<line x1="421.33" y1="195.75" x2="424.53" y2="195.75" stroke="#000" stroke-width="0.70"/>
<line x1="418.13" y1="195.75" x2="421.33" y2="195.75" stroke="#000" stroke-width="0.70"/>
<line x1="616.80" y1="195.75" x2="620.00" y2="195.75" stroke="#000" stroke-width="0.70"/>
<line x1="24.00" y1="184.24" x2="25.70" y2="184.24" stroke="#000" stroke-width="0.70"/>
<line x1="222.67" y1="184.24" x2="224.37" y2="184.24" stroke="#000" stroke-width="0.70"/>
<line x1="220.97" y1="184.24" x2="222.67" y2="184.24" stroke="#000" stroke-width="0.70"/>
<line x1="421.33" y1="184.24" x2="423.03" y2="184.24" stroke="#000" stroke-width="0.70"/>
<line x1="419.63" y1="184.24" x2="421.33" y2="184.24" stroke="#000" stroke-width="0.70"/>
<line x1="618.30" y1="184.24" x2="620.00" y2="184.24" stroke="#000" stroke-width="0.70"/>
<line x1="24.00" y1="172.73" x2="25.70" y2="172.73" stroke="#000" stroke-width="0.70"/>
<line x1="222.67" y1="172.73" x2="224.37" y2="172.73" stroke="#000" stroke-width="0.70"/>
<line x1="220.97" y1="172.73" x2="222.67" y2="172.73" stroke="#000" stroke-width="0.70"/>
<line x1="421.33" y1="172.73" x2="423.03" y2="172.73" stroke="#000" stroke-width="0.70"/>
<line x1="419.63" y1="172.73" x2="421.33" y2="172.73" stroke="#000" stroke-width="0.70"/>
<line x1="618.30" y1="172.73" x2="620.00" y2="172.73" stroke="#000" stroke-width="0.70"/>
<line x1="24.00" y1="161.22" x2="25.70" y2="161.22" stroke="#000" stroke-width="0.70"/>
<line x1="222.67" y1="161.22" x2="224.37" y2="161.22" stroke="#000" stroke-width="0.70"/>
<line x1="220.97" y1="161.22" x2="222.67" y2="161.22" stroke="#000" stroke-width="0.70"/>
<line x1="421.33" y1="161.22" x2="423.03" y2="161.22" stroke="#000" stroke-width="0.70"/>
<line x1="419.63" y1="161.22" x2="421.33" y2="161.22" stroke="#000" stroke-width="0.70"/>
<line x1="618.30" y1="161.22" x2="620.00" y2="161.22" stroke="#000" stroke-width="0.70"/>
<line x1="24.00" y1="149.71" x2="25.70" y2="149.71" stroke="#000" stroke-width="0.70"/>
<line x1="222.67" y1="149.71" x2="224.37" y2="149.71" stroke="#000" stroke-width="0.70"/>
<line x1="220.97" y1="149.71" x2="222.67" y2="149.71" stroke="#000" stroke-width="0.70"/>
<line x1="421.33" y1="149.71" x2="423.03" y2="149.71" stroke="#000" stroke-width="0.70"/>
<line x1="419.63" y1="149.71" x2="421.33" y2="149.71" stroke="#000" stroke-width="0.70"/>
<line x1="618.30" y1="149.71" x2="620.00" y2="149.71" stroke="#000" stroke-width="0.70"/>
<line x1="24.00" y1="138.20" x2="27.20" y2="138.20" stroke="#000" stroke-width="0.70"/>
<line x1="222.67" y1="138.20" x2="225.87" y2="138.20" stroke="#000" stroke-width="0.70"/>
<line x1="219.47" y1="138.20" x2="222.67" y2="138.20" stroke="#000" stroke-width="0.70"/>
<line x1="421.33" y1="138.20" x2="424.53" y2="138.20" stroke="#000" stroke-width="0.70"/>
<line x1="418.13" y1="138.20" x2="421.33" y2="138.20" stroke="#000" stroke-width="0.70"/>
<line x1="616.80" y1="138.20" x2="620.00" y2="138.20" stroke="#000" stroke-width="0.70"/>
<line x1="24.00" y1="126.69" x2="25.70" y2="126.69" stroke="#000" stroke-width="0.70"/>
<line x1="222.67" y1="126.69" x2="224.37" y2="126.69" stroke="#000" stroke-width="0.70"/>
<line x1="220.97" y1="126.69" x2="222.67" y2="126.69" stroke="#000" stroke-width="0.70"/>
<line x1="421.33" y1="126.69" x2="423.03" y2="126.69" stroke="#000" stroke-width="0.70"/>
<line x1="419.63" y1="126.69" x2="421.33" y2="126.69" stroke="#000" stroke-width="0.70"/>
<line x1="618.30" y1="126.69" x2="620.00" y2="126.69" stroke="#000" stroke-width="0.70"/>
<line x1="24.00" y1="115.18" x2="25.70" y2="115.18" stroke="#000" stroke-width="0.70"/>
<line x1="222.67" y1="115.18" x2="224.37" y2="115.18" stroke="#000" stroke-width="0.70"/>
<line x1="220.97" y1="115.18" x2="222.67" y2="115.18" stroke="#000" stroke-width="0.70"/>
<line x1="421.33" y1="115.18" x2="423.03" y2="115.18" stroke="#000" stroke-width="0.70"/>
<line x1="419.63" y1="115.18" x2="421.33" y2="115.18" stroke="#000" stroke-width="0.70"/>
<line x1="618.30" y1="115.18" x2="620.00" y2="115.18" stroke="#000" stroke-width="0.70"/>
<line x1="24.00" y1="103.67" x2="25.70" y2="103.67" stroke="#000" stroke-width="0.70"/>
<line x1="222.67" y1="103.67" x2="224.37" y2="103.67" stroke="#000" stroke-width="0.70"/>
<line x1="220.97" y1="103.67" x2="222.67" y2="103.67" stroke="#000" stroke-width="0.70"/>
<line x1="421.33" y1="103.67" x2="423.03" y2="103.67" stroke="#000" stroke-width="0.70"/>
<line x1="419.63" y1="103.67" x2="421.33" y2="103.67" stroke="#000" stroke-width="0.70"/>
<line x1="618.30" y1="103.67" x2="620.00" y2="103.67" stroke="#000" stroke-width="0.70"/>
<line x1="24.00" y1="92.16" x2="25.70" y2="92.16" stroke="#000" stroke-width="0.70"/>
<line x1="222.67" y1="92.16" x2="224.37" y2="92.16" stroke="#000" stroke-width="0.70"/>
<line x1="220.97" y1="92.16" x2="222.67" y2="92.16" stroke="#000" stroke-width="0.70"/>
<line x1="421.33" y1="92.16" x2="423.03" y2="92.16" stroke="#000" stroke-width="0.70"/>
<line x1="419.63" y1="92.16" x2="421.33" y2="92.16" stroke="#000" stroke-width="0.70"/>
<line x1="618.30" y1="92.16" x2="620.00" y2="92.16" stroke="#000" stroke-width="0.70"/>
<line x1="24.00" y1="80.65" x2="27.20" y2="80.65" stroke="#000" stroke-width="0.70"/>
<line x1="222.67" y1="80.65" x2="225.87" y2="80.65" stroke="#000" stroke-width="0.70"/>
<line x1="219.47" y1="80.65" x2="222.67" y2="80.65" stroke="#000" stroke-width="0.70"/>
<line x1="421.33" y1="80.65" x2="424.53" y2="80.65" stroke="#000" stroke-width="0.70"/>
<line x1="418.13" y1="80.65" x2="421.33" y2="80.65" stroke="#000" stroke-width="0.70"/>
<line x1="616.80" y1="80.65" x2="620.00" y2="80.65" stroke="#000" stroke-width="0.70"/>
<line x1="24.00" y1="69.14" x2="25.70" y2="69.14" stroke="#000" stroke-width="0.70"/>
<line x1="222.67" y1="69.14" x2="224.37" y2="69.14" stroke="#000" stroke-width="0.70"/>
<line x1="220.97" y1="69.14" x2="222.67" y2="69.14" stroke="#000" stroke-width="0.70"/>
<line x1="421.33" y1="69.14" x2="423.03" y2="69.14" stroke="#000" stroke-width="0.70"/>
<line x1="419.63" y1="69.14" x2="421.33" y2="69.14" stroke="#000" stroke-width="0.70"/>
<line x1="618.30" y1="69.14" x2="620.00" y2="69.14" stroke="#000" stroke-width="0.70"/>
<line x1="24.00" y1="57.63" x2="25.70" y2="57.63" stroke="#000" stroke-width="0.70"/>
<line x1="222.67" y1="57.63" x2="224.37" y2="57.63" stroke="#000" stroke-width="0.70"/>
<line x1="220.97" y1="57.63" x2="222.67" y2="57.63" stroke="#000" stroke-width="0.70"/>
<line x1="421.33" y1="57.63" x2="423.03" y2="57.63" stroke="#000" stroke-width="0.70"/>
<line x1="419.63" y1="57.63" x2="421.33" y2="57.63" stroke="#000" stroke-width="0.70"/>
<line x1="618.30" y1="57.63" x2="620.00" y2="57.63" stroke="#000" stroke-width="0.70"/>
<line x1="24.00" y1="46.12" x2="25.70" y2="46.12" stroke="#000" stroke-width="0.70"/>
<line x1="222.67" y1="46.12" x2="224.37" y2="46.12" stroke="#000" stroke-width="0.70"/>
<line x1="220.97" y1="46.12" x2="222.67" y2="46.12" stroke="#000" stroke-width="0.70"/>
<line x1="421.33" y1="46.12" x2="423.03" y2="46.12" stroke="#000" stroke-width="0.70"/>
<line x1="419.63" y1="46.12" x2="421.33" y2="46.12" stroke="#000" stroke-width="0.70"/>
<line x1="618.30" y1="46.12" x2="620.00" y2="46.12" stroke="#000" stroke-width="0.70"/>
<line x1="24.00" y1="34.61" x2="25.70" y2="34.61" stroke="#000" stroke-width="0.70"/>
<line x1="222.67" y1="34.61" x2="224.37" y2="34.61" stroke="#000" stroke-width="0.70"/>
<line x1="220.97" y1="34.61" x2="222.67" y2="34.61" stroke="#000" stroke-width="0.70"/>
<line x1="421.33" y1="34.61" x2="423.03" y2="34.61" stroke="#000" stroke-width="0.70"/>
<line x1="419.63" y1="34.61" x2="421.33" y2="34.61" stroke="#000" stroke-width="0.70"/>
<line x1="618.30" y1="34.61" x2="620.00" y2="34.61" stroke="#000" stroke-width="0.70"/>
<line x1="24.00" y1="23.10" x2="27.20" y2="23.10" stroke="#000" stroke-width="0.70"/>
<line x1="222.67" y1="23.10" x2="225.87" y2="23.10" stroke="#000" stroke-width="0.70"/>
<line x1="219.47" y1="23.10" x2="222.67" y2="23.10" stroke="#000" stroke-width="0.70"/>
<line x1="421.33" y1="23.10" x2="424.53" y2="23.10" stroke="#000" stroke-width="0.70"/>
<line x1="418.13" y1="23.10" x2="421.33" y2="23.10" stroke="#000" stroke-width="0.70"/>
<line x1="616.80" y1="23.10" x2="620.00" y2="23.10" stroke="#000" stroke-width="0.70"/>
<line x1="24.00" y1="11.59" x2="25.70" y2="11.59" stroke="#000" stroke-width="0.70"/>
<line x1="222.67" y1="11.59" x2="224.37" y2="11.59" stroke="#000" stroke-width="0.70"/>
<line x1="220.97" y1="11.59" x2="222.67" y2="11.59" stroke="#000" stroke-width="0.70"/>
<line x1="421.33" y1="11.59" x2="423.03" y2="11.59" stroke="#000" stroke-width="0.70"/>
<line x1="419.63" y1="11.59" x2="421.33" y2="11.59" stroke="#000" stroke-width="0.70"/>
<line x1="618.30" y1="11.59" x2="620.00" y2="11.59" stroke="#000" stroke-width="0.70"/>
<line x1="24.00" y1="0.08" x2="25.70" y2="0.08" stroke="#000" stroke-width="0.70"/>
<line x1="222.67" y1="0.08" x2="224.37" y2="0.08" stroke="#000" stroke-width="0.70"/>
<line x1="220.97" y1="0.08" x2="222.67" y2="0.08" stroke="#000" stroke-width="0.70"/>
<line x1="421.33" y1="0.08" x2="423.03" y2="0.08" stroke="#000" stroke-width="0.70"/>
<line x1="419.63" y1="0.08" x2="421.33" y2="0.08" stroke="#000" stroke-width="0.70"/>
<line x1="618.30" y1="0.08" x2="620.00" y2="0.08" stroke="#000" stroke-width="0.70"/>
<line x1="24.00" y1="253.30" x2="24.00" y2="250.10" stroke="#000" stroke-width="0.70"/>
<line x1="24.00" y1="0.00" x2="24.00" y2="3.20" stroke="#000" stroke-width="0.70"/>
<line x1="57.11" y1="253.30" x2="57.11" y2="250.10" stroke="#000" stroke-width="0.70"/>
<line x1="57.11" y1="0.00" x2="57.11" y2="3.20" stroke="#000" stroke-width="0.70"/>
<line x1="90.22" y1="253.30" x2="90.22" y2="250.10" stroke="#000" stroke-width="0.70"/>
<line x1="90.22" y1="0.00" x2="90.22" y2="3.20" stroke="#000" stroke-width="0.70"/>
<line x1="123.33" y1="253.30" x2="123.33" y2="250.10" stroke="#000" stroke-width="0.70"/>
<line x1="123.33" y1="0.00" x2="123.33" y2="3.20" stroke="#000" stroke-width="0.70"/>
<line x1="156.44" y1="253.30" x2="156.44" y2="250.10" stroke="#000" stroke-width="0.70"/>
<line x1="156.44" y1="0.00" x2="156.44" y2="3.20" stroke="#000" stroke-width="0.70"/>
<line x1="189.56" y1="253.30" x2="189.56" y2="250.10" stroke="#000" stroke-width="0.70"/>
<line x1="189.56" y1="0.00" x2="189.56" y2="3.20" stroke="#000" stroke-width="0.70"/>
<line x1="222.67" y1="253.30" x2="222.67" y2="250.10" stroke="#000" stroke-width="0.70"/>
<line x1="222.67" y1="0.00" x2="222.67" y2="3.20" stroke="#000" stroke-width="0.70"/>
<line x1="222.67" y1="253.30" x2="222.67" y2="250.10" stroke="#000" stroke-width="0.70"/>
<line x1="222.67" y1="0.00" x2="222.67" y2="3.20" stroke="#000" stroke-width="0.70"/>
<line x1="255.78" y1="253.30" x2="255.78" y2="250.10" stroke="#000" stroke-width="0.70"/>
<line x1="255.78" y1="0.00" x2="255.78" y2="3.20" stroke="#000" stroke-width="0.70"/>
<line x1="288.89" y1="253.30" x2="288.89" y2="250.10" stroke="#000" stroke-width="0.70"/>
<line x1="288.89" y1="0.00" x2="288.89" y2="3.20" stroke="#000" stroke-width="0.70"/>
<line x1="322.00" y1="253.30" x2="322.00" y2="250.10" stroke="#000" stroke-width="0.70"/>
<line x1="322.00" y1="0.00" x2="322.00" y2="3.20" stroke="#000" stroke-width="0.70"/>
<line x1="355.11" y1="253.30" x2="355.11" y2="250.10" stroke="#000" stroke-width="0.70"/>
<line x1="355.11" y1="0.00" x2="355.11" y2="3.20" stroke="#000" stroke-width="0.70"/>
<line x1="388.22" y1="253.30" x2="388.22" y2="250.10" stroke="#000" stroke-width="0.70"/>
<line x1="388.22" y1="0.00" x2="388.22" y2="3.20" stroke="#000" stroke-width="0.70"/>
<line x1="421.33" y1="253.30" x2="421.33" y2="250.10" stroke="#000" stroke-width="0.70"/>
<line x1="421.33" y1="0.00" x2="421.33" y2="3.20" stroke="#000" stroke-width="0.70"/>
<line x1="421.33" y1="253.30" x2="421.33" y2="250.10" stroke="#000" stroke-width="0.70"/>
<line x1="421.33" y1="0.00" x2="421.33" y2="3.20" stroke="#000" stroke-width="0.70"/>
<line x1="454.44" y1="253.30" x2="454.44" y2="250.10" stroke="#000" stroke-width="0.70"/>
<line x1="454.44" y1="0.00" x2="454.44" y2="3.20" stroke="#000" stroke-width="0.70"/>
<line x1="487.56" y1="253.30" x2="487.56" y2="250.10" stroke="#000" stroke-width="0.70"/>
<line x1="487.56" y1="0.00" x2="487.56" y2="3.20" stroke="#000" stroke-width="0.70"/>
<line x1="520.67" y1="253.30" x2="520.67" y2="250.10" stroke="#000" stroke-width="0.70"/>
<line x1="520.67" y1="0.00" x2="520.67" y2="3.20" stroke="#000" stroke-width="0.70"/>
<line x1="553.78" y1="253.30" x2="553.78" y2="250.10" stroke="#000" stroke-width="0.70"/>
<line x1="553.78" y1="0.00" x2="553.78" y2="3.20" stroke="#000" stroke-width="0.70"/>
<line x1="586.89" y1="253.30" x2="586.89" y2="250.10" stroke="#000" stroke-width="0.70"/>
<line x1="586.89" y1="0.00" x2="586.89" y2="3.20" stroke="#000" stroke-width="0.70"/>
<line x1="620.00" y1="253.30" x2="620.00" y2="250.10" stroke="#000" stroke-width="0.70"/>
<line x1="620.00" y1="0.00" x2="620.00" y2="3.20" stroke="#000" stroke-width="0.70"/>
<filter id="g" x="0" y="0" width="623" height="270" filterUnits="userSpaceOnUse" color-interpolation-filters="sRGB"><feColorMatrix type="saturate" values="0"/></filter><g filter="url(#g)">
<text x="16.60" y="257.30" font-size="11.3" text-anchor="end" font-weight="normal" fill="#000">0</text>
<text x="16.60" y="199.75" font-size="11.3" text-anchor="end" font-weight="normal" fill="#000">0.5</text>
<text x="16.60" y="142.20" font-size="11.3" text-anchor="end" font-weight="normal" fill="#000">1</text>
<text x="16.60" y="84.65" font-size="11.3" text-anchor="end" font-weight="normal" fill="#000">1.5</text>
<text x="16.60" y="27.10" font-size="11.3" text-anchor="end" font-weight="normal" fill="#000">2</text>
<text x="24.00" y="269.60" font-size="11.3" text-anchor="middle" font-weight="normal" fill="#000">0</text>
<text x="57.11" y="269.60" font-size="11.3" text-anchor="middle" font-weight="normal" fill="#000">0.5</text>
<text x="90.22" y="269.60" font-size="11.3" text-anchor="middle" font-weight="normal" fill="#000">1</text>
<text x="123.33" y="269.60" font-size="11.3" text-anchor="middle" font-weight="normal" fill="#000">1.5</text>
<text x="156.44" y="269.60" font-size="11.3" text-anchor="middle" font-weight="normal" fill="#000">2</text>
<text x="189.56" y="269.60" font-size="11.3" text-anchor="middle" font-weight="normal" fill="#000">2.5</text>
<text x="222.67" y="269.60" font-size="11.3" text-anchor="middle" font-weight="normal" fill="#000">0</text>
<text x="255.78" y="269.60" font-size="11.3" text-anchor="middle" font-weight="normal" fill="#000">0.5</text>
<text x="288.89" y="269.60" font-size="11.3" text-anchor="middle" font-weight="normal" fill="#000">1</text>
<text x="322.00" y="269.60" font-size="11.3" text-anchor="middle" font-weight="normal" fill="#000">1.5</text>
<text x="355.11" y="269.60" font-size="11.3" text-anchor="middle" font-weight="normal" fill="#000">2</text>
<text x="388.22" y="269.60" font-size="11.3" text-anchor="middle" font-weight="normal" fill="#000">2.5</text>
<text x="421.33" y="269.60" font-size="11.3" text-anchor="middle" font-weight="normal" fill="#000">0</text>
<text x="454.44" y="269.60" font-size="11.3" text-anchor="middle" font-weight="normal" fill="#000">0.5</text>
<text x="487.56" y="269.60" font-size="11.3" text-anchor="middle" font-weight="normal" fill="#000">1</text>
<text x="520.67" y="269.60" font-size="11.3" text-anchor="middle" font-weight="normal" fill="#000">1.5</text>
<text x="553.78" y="269.60" font-size="11.3" text-anchor="middle" font-weight="normal" fill="#000">2</text>
<text x="586.89" y="269.60" font-size="11.3" text-anchor="middle" font-weight="normal" fill="#000">2.5</text>
<text x="620.00" y="269.60" font-size="11.3" text-anchor="middle" font-weight="normal" fill="#000">3</text>
<text x="163.20" y="57.80" font-size="11.3" text-anchor="end" font-weight="normal" fill="#000">DM1</text>
<text x="163.20" y="73.50" font-size="11.3" text-anchor="end" font-weight="normal" fill="#000">spf1</text>
<text x="163.20" y="89.20" font-size="11.3" text-anchor="end" font-weight="normal" fill="#000">DM2</text>
<text x="163.20" y="104.90" font-size="11.3" text-anchor="end" font-weight="normal" fill="#000">spf2</text>
<text x="163.20" y="120.60" font-size="11.3" text-anchor="end" font-weight="normal" fill="#000">DM3</text>
<text x="163.20" y="136.30" font-size="11.3" text-anchor="end" font-weight="normal" fill="#000">spf3</text>
<text x="163.20" y="152.00" font-size="11.3" text-anchor="end" font-weight="normal" fill="#000">DM4</text>
<text x="163.20" y="167.70" font-size="11.3" text-anchor="end" font-weight="normal" fill="#000">spf4</text>
<text x="87.90" y="24.6" font-size="12" font-weight="bold" fill="#808080">V<tspan font-size="10" dy="3.9">ii</tspan><tspan dy="-3.9"> @ 1.46 T</tspan><tspan font-size="10" dy="3.9">c</tspan></text>
<text x="286.57" y="24.6" font-size="12" font-weight="bold" fill="#808080">V<tspan font-size="10" dy="3.9">ii</tspan><tspan dy="-3.9"> @ 2.20 T</tspan><tspan font-size="10" dy="3.9">c</tspan></text>
<text x="485.23" y="24.6" font-size="12" font-weight="bold" fill="#808080">V<tspan font-size="10" dy="3.9">ii</tspan><tspan dy="-3.9"> @ 2.93 T</tspan><tspan font-size="10" dy="3.9">c</tspan></text>
<text x="29.7" y="15.6" font-size="11.5" font-weight="bold"><tspan font-weight="normal">ρ</tspan>(<tspan font-weight="normal">ω</tspan>)<tspan font-weight="normal">/</tspan>(<tspan font-weight="normal">ω</tspan>T)</text>
<text x="180.50" y="235.7" font-size="11.5" font-weight="bold"><tspan font-weight="normal">ω/</tspan>T</text>
<text x="379.17" y="235.7" font-size="11.5" font-weight="bold"><tspan font-weight="normal">ω/</tspan>T</text>
<text x="577.83" y="235.7" font-size="11.5" font-weight="bold"><tspan font-weight="normal">ω/</tspan>T</text>
</g>
<line x1="171.4" y1="53.80" x2="203.4" y2="53.80" stroke="#000" stroke-width="1.2" stroke-dasharray="1.1 0.8 1.1 3.2"/>
<line x1="172.2" y1="69.50" x2="203.2" y2="69.50" stroke="#000" stroke-width="1.25"/>
<line x1="171.4" y1="85.20" x2="203.4" y2="85.20" stroke="#0000ff" stroke-width="1.2" stroke-dasharray="1.1 0.8 1.1 3.2"/>
<line x1="172.2" y1="100.90" x2="203.2" y2="100.90" stroke="#0000ff" stroke-width="1.25"/>
<line x1="171.4" y1="116.60" x2="203.4" y2="116.60" stroke="#ff0000" stroke-width="1.2" stroke-dasharray="1.1 0.8 1.1 3.2"/>
<line x1="172.2" y1="132.30" x2="203.2" y2="132.30" stroke="#ff0000" stroke-width="1.25"/>
<line x1="171.4" y1="148.00" x2="203.4" y2="148.00" stroke="#8b008b" stroke-width="1.2" stroke-dasharray="1.1 0.8 1.1 3.2"/>
<line x1="172.2" y1="163.70" x2="203.2" y2="163.70" stroke="#8b008b" stroke-width="1.25"/>
</svg></body></html>
